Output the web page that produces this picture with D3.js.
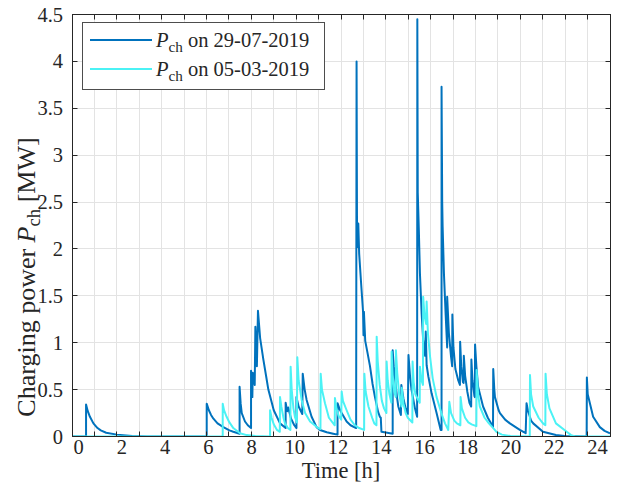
<!DOCTYPE html>
<html>
<head>
<meta charset="utf-8">
<script src="https://cdn.jsdelivr.net/npm/d3@7"></script>
<style>
  body { margin: 0; background: #fff; }
  svg { display: block; }
  text { font-family: "Liberation Serif", "Times New Roman", Tinos, "DejaVu Serif", serif; fill: #262626; }
</style>
</head>
<body>
<svg id="chart" width="618" height="483"></svg>
<script>
// ---- data -------------------------------------------------------------
const hourTicks = [0, 2, 4, 6, 8, 10, 12, 14, 16, 18, 20, 22, 24];
const powerTicks = [0, 0.5, 1, 1.5, 2, 2.5, 3, 3.5, 4, 4.5];
const powerTickLabels = ["0", "0.5", "1", "1.5", "2", "2.5", "3", "3.5", "4", "4.5"];
const gridDivisions = [0, 1, 2, 3, 4, 5, 6, 7, 8, 9, 10, 11, 12, 13, 14, 15, 16, 17, 18, 19, 20, 21, 22, 23, 24];
const dayLabels = ["29-07-2019", "05-03-2019"];

// charging power [MW] over time [h], 29-07-2019
const powerJuly = [
  [-0.28, 0], [0.37, 0], [0.37, 0.34], [0.45, 0.27], [0.55, 0.21], [0.71, 0.14], [0.9, 0.09],
  [1.05, 0.065], [1.3, 0.04], [1.8, 0.02], [2.5, 0.005], [3.2, 0],
  [5.95, 0], [5.95, 0.35], [6.05, 0.28], [6.15, 0.23], [6.26, 0.19], [6.45, 0.14], [6.72, 0.10],
  [7.0, 0.065], [7.18, 0.05], [7.47, 0.03],
  [7.47, 0.53], [7.52, 0.35], [7.57, 0.25], [7.72, 0.16], [7.85, 0.12], [8.0, 0.09],
  [8.0, 0.70], [8.06, 0.42], [8.08, 0.68], [8.17, 0.55], [8.2, 1.17], [8.27, 0.75], [8.32, 1.34],
  [8.42, 1.05], [8.57, 0.82], [8.7, 0.64], [8.8, 0.50], [9.05, 0.28], [9.34, 0.14], [9.6, 0.09],
  [9.6, 0.36], [9.67, 0.27], [9.72, 0.31], [9.85, 0.19], [10.0, 0.12], [10.1, 0.09],
  [10.1, 0.42], [10.2, 0.32], [10.37, 0.24],
  [10.39, 0.67], [10.48, 0.50], [10.57, 0.39], [10.8, 0.21], [11.03, 0.10], [11.19, 0.07],
  [11.5, 0.045], [11.8, 0.03], [12.0, 0.02],
  [12.0, 0.355], [12.1, 0.29], [12.19, 0.25], [12.42, 0.16], [12.6, 0.12], [12.86, 0.09],
  [12.88, 4.0], [12.9, 2.29], [12.94, 2.02], [12.96, 2.27], [13.0, 1.95], [13.1, 1.6], [13.18, 1.33],
  [13.2, 1.08], [13.22, 1.33], [13.28, 1.02], [13.38, 0.9], [13.5, 0.75], [13.62, 0.56], [13.73, 0.42],
  [13.88, 0.26], [13.96, 0.21], [14.0, 0.2], [14.03, 0.05], [14.3, 0.04], [14.55, 0.03],
  [14.55, 0.92], [14.6, 0.75], [14.65, 0.64], [14.75, 0.42], [14.81, 0.32], [14.93, 0.23],
  [14.95, 0.55], [15.05, 0.40], [15.15, 0.30], [15.25, 0.24],
  [15.28, 0.87], [15.35, 0.65], [15.42, 0.50], [15.58, 0.30], [15.68, 0.21],
  [15.69, 4.45], [15.71, 2.6], [15.76, 2.2], [15.81, 1.74], [15.89, 1.31], [15.96, 1.03], [16.05, 0.86],
  [16.08, 1.12], [16.12, 0.76], [16.2, 0.64], [16.35, 0.46], [16.58, 0.25], [16.77, 0.07],
  [16.81, 0.07], [16.81, 3.73], [16.84, 2.5], [16.86, 2.24], [16.92, 1.74], [17.0, 1.3], [17.07, 0.95],
  [17.07, 1.49], [17.15, 1.1], [17.25, 0.85], [17.3, 0.75],
  [17.31, 1.30], [17.36, 0.95], [17.45, 0.72], [17.58, 0.6], [17.66, 0.55],
  [17.67, 1.01], [17.72, 0.75], [17.8, 0.58], [17.83, 0.57],
  [17.84, 0.86], [17.9, 0.65], [18.0, 0.48], [18.1, 0.36], [18.18, 0.32],
  [18.19, 0.82], [18.24, 0.6], [18.33, 0.43], [18.35, 0.42],
  [18.36, 0.98], [18.42, 0.75], [18.5, 0.53], [18.73, 0.32], [18.95, 0.2], [19.15, 0.12], [19.19, 0.1],
  [19.2, 0.72], [19.25, 0.5], [19.28, 0.42], [19.45, 0.28], [19.51, 0.25], [19.75, 0.18], [19.97, 0.14],
  [20.43, 0.07], [20.7, 0.035],
  [20.74, 0.355], [20.8, 0.28], [20.95, 0.17], [21.05, 0.14], [21.5, 0.05], [22.1, 0.015], [22.5, 0.005],
  [23.52, 0],
  [23.53, 0.63], [23.57, 0.45], [23.67, 0.355], [23.82, 0.21], [24.13, 0.10], [24.35, 0.06], [24.6, 0.035]
];

// charging power [MW] over time [h], 05-03-2019
const powerMarch = [
  [-0.28, 0], [6.69, 0], [6.69, 0.35], [6.75, 0.28], [6.87, 0.21], [7.0, 0.15], [7.18, 0.09],
  [7.49, 0.035], [7.8, 0.015], [8.2, 0.005], [8.88, 0],
  [8.88, 0.28], [8.95, 0.2], [9.05, 0.13], [9.2, 0.07], [9.33, 0.05],
  [9.34, 0.42], [9.4, 0.32], [9.5, 0.2], [9.57, 0.14], [9.7, 0.09], [9.82, 0.07],
  [9.83, 0.745], [9.88, 0.5], [9.96, 0.3], [10.03, 0.21], [10.12, 0.15],
  [10.14, 0.845], [10.2, 0.6], [10.34, 0.39], [10.5, 0.25], [10.73, 0.16], [11.1, 0.09], [11.21, 0.08],
  [11.22, 0.67], [11.28, 0.5], [11.42, 0.355], [11.6, 0.2], [11.8, 0.14], [11.87, 0.12],
  [11.88, 0.41], [11.95, 0.3], [12.05, 0.22], [12.17, 0.18],
  [12.19, 0.48], [12.25, 0.38], [12.42, 0.28], [12.6, 0.18], [12.8, 0.12], [13.0, 0.09], [13.23, 0.07],
  [13.24, 0.67], [13.3, 0.48], [13.43, 0.32], [13.6, 0.2], [13.7, 0.14], [13.8, 0.12],
  [13.81, 1.065], [13.86, 0.8], [13.95, 0.55], [14.05, 0.38], [14.15, 0.3], [14.26, 0.25],
  [14.27, 0.80], [14.32, 0.6], [14.4, 0.45], [14.49, 0.36],
  [14.5, 0.905], [14.55, 0.65], [14.62, 0.48], [14.69, 0.42],
  [14.7, 0.92], [14.76, 0.68], [14.85, 0.45], [14.96, 0.32],
  [14.97, 0.52], [15.05, 0.35], [15.15, 0.25], [15.25, 0.2], [15.46, 0.15],
  [15.47, 0.80], [15.52, 0.58], [15.6, 0.45], [15.75, 0.38], [15.8, 0.36],
  [15.81, 0.745], [15.88, 0.6], [15.95, 0.55],
  [15.96, 1.49], [16.02, 1.3], [16.1, 1.2], [16.12, 1.44], [16.18, 1.1], [16.28, 0.85], [16.4, 0.62],
  [16.58, 0.42], [16.8, 0.25], [16.97, 0.14], [17.12, 0.07],
  [17.17, 0.37], [17.25, 0.25], [17.4, 0.17], [17.52, 0.14], [17.68, 0.12],
  [17.69, 0.42], [17.75, 0.3], [17.9, 0.2], [18.05, 0.15], [18.2, 0.13], [18.42, 0.11],
  [18.43, 0.71], [18.5, 0.45], [18.58, 0.32], [18.8, 0.2], [19.0, 0.14], [19.2, 0.09], [19.35, 0.05],
  [19.6, 0.02], [20.0, 0.005], [20.89, 0],
  [20.9, 0.655], [20.95, 0.45], [21.05, 0.32], [21.3, 0.2], [21.5, 0.14], [21.61, 0.12],
  [21.62, 0.67], [21.68, 0.45], [21.8, 0.3], [22.1, 0.14], [22.6, 0.05], [22.8, 0.015], [23.0, 0],
  [24.6, 0]
];

// ---- layout -----------------------------------------------------------
const plot = { left: 72, right: 610, top: 14.5, bottom: 436.5 };
const colJuly = "#0072bd";
const colMarch = "#4bf2f5";
const axisColor = "#262626";
const serif = '"Liberation Serif", "Times New Roman", Tinos, "DejaVu Serif", serif';
const tickFont = 20.5, titleFont = 22.5, yTitleFont = 26, legendFont = 20.5;

const svg = d3.select("#chart");

const x = d3.scaleLinear().domain([-0.28, 24.6]).range([plot.left, plot.right]);
const xGrid = d3.scaleLinear().domain([0, 24]).range([plot.left, plot.right]);
const y = d3.scaleLinear().domain([0, 4.5]).range([plot.bottom, plot.top]);

const crisp = v => Math.round(v - 0.5) + 0.5;

// grid
const grid = svg.append("g").attr("stroke", "#e3e3e3").attr("stroke-width", 1);
grid.selectAll("line.v").data(gridDivisions.slice(1, -1)).join("line")
  .attr("x1", d => crisp(xGrid(d))).attr("x2", d => crisp(xGrid(d)))
  .attr("y1", plot.top).attr("y2", plot.bottom);
grid.selectAll("line.h").data(powerTicks.slice(1, -1)).join("line")
  .attr("y1", d => crisp(y(d))).attr("y2", d => crisp(y(d)))
  .attr("x1", plot.left).attr("x2", plot.right);

// series
const line = d3.line().x(d => x(d[0])).y(d => y(d[1]));
svg.append("clipPath").attr("id", "plotclip").append("rect")
  .attr("x", plot.left).attr("y", plot.top - 6)
  .attr("width", plot.right - plot.left).attr("height", plot.bottom - plot.top + 6);
svg.append("path").datum(powerJuly).attr("d", line)
  .attr("fill", "none").attr("stroke", colJuly).attr("stroke-width", 2)
  .attr("stroke-linejoin", "round").attr("clip-path", "url(#plotclip)");
svg.append("path").datum(powerMarch).attr("d", line)
  .attr("fill", "none").attr("stroke", colMarch).attr("stroke-width", 2)
  .attr("stroke-linejoin", "round").attr("clip-path", "url(#plotclip)");

// axes box and inward ticks
const box = svg.append("g").attr("stroke", axisColor).attr("stroke-width", 1).attr("fill", "none");
box.append("rect").attr("x", crisp(plot.left)).attr("y", crisp(plot.top))
  .attr("width", Math.round(plot.right - plot.left)).attr("height", Math.round(plot.bottom - plot.top));
const tickLen = 5;
gridDivisions.slice(1, -1).forEach(d => {
  const px = crisp(xGrid(d));
  box.append("line").attr("x1", px).attr("x2", px).attr("y1", crisp(plot.bottom)).attr("y2", crisp(plot.bottom) - tickLen);
  box.append("line").attr("x1", px).attr("x2", px).attr("y1", crisp(plot.top)).attr("y2", crisp(plot.top) + tickLen);
});
powerTicks.slice(1, -1).forEach(d => {
  const py = crisp(y(d));
  box.append("line").attr("y1", py).attr("y2", py).attr("x1", crisp(plot.left)).attr("x2", crisp(plot.left) + tickLen);
  box.append("line").attr("y1", py).attr("y2", py).attr("x1", crisp(plot.right)).attr("x2", crisp(plot.right) - tickLen);
});

// tick labels
const yAxis = svg.append("g").attr("transform", `translate(${plot.left},0)`)
  .call(d3.axisLeft(y).tickValues(powerTicks).tickFormat((d, i) => powerTickLabels[i]).tickSize(0).tickPadding(9));
const xAxis = svg.append("g").attr("transform", `translate(0,${plot.bottom})`)
  .call(d3.axisBottom(x).tickValues(hourTicks).tickFormat(d3.format("d")).tickSize(0).tickPadding(3));
[yAxis, xAxis].forEach(g => {
  g.attr("font-family", null);
  g.select(".domain").remove();
  g.selectAll("text").attr("font-size", tickFont).style("font-family", serif).attr("fill", axisColor);
});

// axis titles
svg.append("text").attr("x", (plot.left + plot.right) / 2).attr("y", 477.5)
  .attr("text-anchor", "middle").attr("font-size", titleFont).style("font-family", serif).text("Time [h]");

const yTitle = svg.append("text").attr("text-anchor", "middle").attr("font-size", yTitleFont).style("font-family", serif)
  .attr("transform", "translate(35,277) rotate(-90)");
yTitle.append("tspan").text("Charging power ");
yTitle.append("tspan").attr("font-style", "italic").text("P");
yTitle.append("tspan").attr("font-size", yTitleFont * 0.72).attr("dy", 5).text("ch");
yTitle.append("tspan").attr("dy", -5).text(" [MW]");

// legend
const legend = svg.append("g");
legend.append("rect").attr("x", 82.5).attr("y", 22.5).attr("width", 242).attr("height", 67)
  .attr("fill", "#fff").attr("stroke", "#4d4d4d").attr("stroke-width", 1);
[[dayLabels[0], colJuly, 40], [dayLabels[1], colMarch, 69]].forEach(([label, col, ly]) => {
  legend.append("line").attr("x1", 90).attr("x2", 152).attr("y1", ly).attr("y2", ly)
    .attr("stroke", col).attr("stroke-width", 2);
  const t = legend.append("text").attr("x", 156).attr("y", ly + 7).attr("font-size", legendFont).style("font-family", serif);
  t.append("tspan").attr("font-style", "italic").text("P");
  t.append("tspan").attr("font-size", legendFont * 0.74).attr("dy", 5).text("ch");
  t.append("tspan").attr("dy", -5).text(" on " + label);
});
</script>
</body>
</html>
